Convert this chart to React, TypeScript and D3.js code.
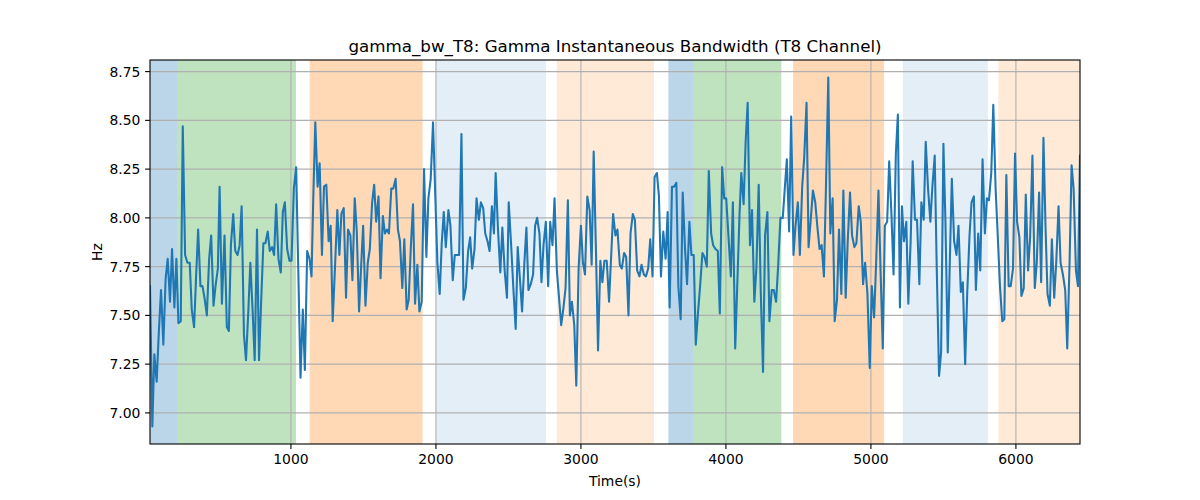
import * as d3 from "d3"

// [time (s), bandwidth (Hz)]
const samples: [number, number][] = [
  [28, 7.65], [44, 6.93], [58, 7.3], [74, 7.16], [88, 7.4], [104, 7.63], [120, 7.35], [136, 7.69], [150, 7.79],
  [166, 7.57], [180, 7.84], [196, 7.54], [210, 7.79], [224, 7.46], [240, 7.47], [254, 8.47], [270, 7.81],
  [286, 7.77], [302, 7.77], [316, 7.53], [332, 7.44], [346, 7.7], [360, 7.94], [376, 7.65], [390, 7.65],
  [406, 7.58], [420, 7.5], [436, 7.79], [450, 7.91], [466, 7.55], [480, 7.65], [496, 7.74], [508, 8.16],
  [524, 7.56], [542, 7.91], [558, 7.44], [572, 7.42], [586, 7.86], [602, 8.02], [616, 7.83], [632, 7.81],
  [646, 7.86], [660, 8.06], [676, 7.4], [690, 7.27], [706, 7.52], [720, 7.77], [736, 7.52], [750, 7.27],
  [766, 7.94], [780, 7.27], [796, 7.6], [810, 7.87], [824, 7.87], [840, 7.93], [854, 7.83], [870, 7.85],
  [884, 7.81], [898, 8.07], [914, 7.79], [930, 7.72], [944, 8.03], [958, 8.08], [974, 7.84], [990, 7.78],
  [1004, 7.78], [1020, 8.15], [1036, 8.26],
  [1066, 7.18], [1082, 7.53], [1096, 7.22], [1112, 7.83], [1128, 7.79], [1142, 7.7], [1154, 8.1], [1168, 8.49],
  [1184, 8.16], [1198, 8.28], [1214, 7.81], [1228, 8.16], [1244, 8.17], [1260, 7.88], [1274, 7.96], [1288, 7.47],
  [1304, 7.75], [1320, 8.04], [1334, 7.81], [1348, 8.02], [1364, 8.05], [1380, 7.59], [1394, 7.94], [1410, 7.91],
  [1424, 7.68], [1440, 8.1], [1454, 7.93], [1470, 7.52], [1484, 7.75], [1498, 7.96], [1514, 7.55], [1530, 7.77],
  [1544, 7.84], [1560, 8.08], [1574, 8.17], [1588, 7.98], [1604, 8.11], [1618, 7.69], [1634, 8.01], [1648, 7.92],
  [1662, 7.94], [1676, 7.92], [1692, 8.15], [1706, 8.15], [1722, 8.2], [1738, 7.94], [1752, 7.88], [1768, 7.64],
  [1782, 7.89], [1798, 7.53], [1812, 7.58], [1827, 7.85], [1842, 8.07], [1856, 7.56], [1872, 7.76], [1886, 7.52],
  [1902, 7.57], [1918, 8.25], [1934, 7.8], [1948, 8.1], [1964, 8.2], [1980, 8.49], [1994, 8.15], [2010, 7.77],
  [2026, 7.61], [2040, 7.87], [2054, 8.03], [2068, 7.85], [2086, 8.04],
  [2100, 7.96], [2116, 7.68], [2130, 7.81], [2146, 7.81], [2160, 7.81], [2176, 8.43], [2190, 7.58], [2206, 7.64],
  [2222, 7.83], [2236, 7.9], [2250, 7.74], [2266, 7.84], [2280, 8.1], [2296, 7.99], [2310, 8.08], [2326, 8.05],
  [2340, 7.92], [2356, 7.88], [2370, 7.83], [2386, 8.06], [2400, 7.92], [2412, 8.23], [2428, 7.94], [2444, 7.72],
  [2458, 7.95], [2474, 7.73], [2490, 7.59], [2502, 8.08], [2518, 7.87], [2534, 7.64], [2550, 7.43], [2564, 7.85],
  [2580, 7.68], [2594, 7.52], [2610, 7.77], [2624, 7.95], [2638, 7.63], [2654, 7.66], [2670, 7.71], [2684, 7.96],
  [2698, 8.0], [2714, 7.92], [2728, 7.67], [2742, 7.86], [2758, 7.98], [2774, 7.65], [2788, 7.98], [2804, 7.86],
  [2818, 8.1], [2834, 7.73], [2848, 7.6], [2864, 7.45], [2878, 7.53], [2894, 7.64], [2910, 8.09], [2924, 7.5],
  [2938, 7.57], [2954, 7.45], [2968, 7.14], [2984, 7.74], [3000, 7.96], [3014, 7.77], [3028, 7.71], [3044, 8.11],
  [3060, 8.04], [3074, 7.76], [3088, 8.34], [3104, 7.82], [3118, 7.32],
  [3134, 7.78], [3148, 7.67], [3162, 7.78], [3178, 7.78], [3194, 7.57], [3222, 8.02], [3238, 7.91], [3252, 7.94],
  [3268, 7.76], [3282, 7.74], [3298, 7.82], [3312, 7.8], [3328, 7.5], [3342, 7.92], [3358, 8.02], [3372, 7.99],
  [3388, 7.73], [3404, 7.7], [3418, 7.76], [3434, 7.71], [3448, 7.7], [3464, 7.74], [3478, 7.89], [3494, 7.7],
  [3508, 8.21], [3524, 8.23], [3538, 8.11], [3552, 7.7], [3568, 7.93], [3584, 7.79], [3598, 8.03], [3612, 7.54],
  [3628, 8.16], [3642, 8.16], [3658, 8.18], [3672, 7.65], [3688, 7.48], [3702, 8.13], [3718, 7.84], [3732, 7.66],
  [3748, 7.98], [3762, 7.81], [3778, 7.81], [3792, 7.35], [3808, 7.52], [3822, 7.65], [3838, 7.82], [3852, 7.8],
  [3868, 7.75], [3882, 8.24], [3898, 7.92], [3912, 7.86], [3928, 7.84], [3944, 7.83], [3958, 7.51], [3974, 8.26],
  [3988, 8.1], [4002, 8.1], [4018, 7.9], [4034, 7.7], [4048, 8.08], [4064, 7.33], [4078, 7.65], [4094, 8.02],
  [4106, 8.23], [4122, 8.07], [4136, 8.39], [4150, 8.59],
  [4166, 7.86], [4180, 8.04], [4196, 7.57], [4210, 7.74], [4226, 8.17], [4240, 7.63], [4256, 7.21], [4270, 7.91],
  [4286, 8.03], [4300, 7.47], [4316, 7.63], [4330, 7.63], [4346, 7.57], [4360, 7.75], [4376, 8.0], [4392, 8.0],
  [4406, 8.15], [4420, 8.3], [4436, 7.93], [4450, 8.52], [4466, 7.81], [4480, 7.96], [4496, 8.08], [4510, 7.81],
  [4526, 8.16], [4540, 8.31], [4556, 8.59], [4570, 7.85], [4586, 8.0], [4600, 8.14], [4616, 8.08], [4630, 7.96],
  [4646, 7.84], [4660, 7.86], [4676, 7.7], [4690, 8.16], [4706, 8.72], [4720, 7.92], [4736, 8.1], [4750, 7.47],
  [4766, 7.58], [4780, 7.94], [4796, 7.61], [4810, 8.14], [4826, 7.59], [4840, 7.88], [4856, 8.13], [4870, 7.91],
  [4886, 7.85], [4900, 7.87], [4916, 8.06], [4930, 7.98], [4946, 7.66], [4960, 7.77], [4976, 7.61], [4992, 7.23],
  [5006, 7.65], [5022, 7.49], [5036, 7.77], [5052, 8.14], [5066, 7.74], [5082, 7.33], [5096, 7.96], [5112, 7.98],
  [5126, 8.29], [5142, 8.01], [5156, 7.71], [5172, 8.33], [5186, 8.53],
  [5200, 7.54], [5214, 8.06], [5228, 7.88], [5244, 7.98], [5258, 7.56], [5274, 7.88], [5288, 8.29], [5304, 7.99],
  [5318, 7.99], [5334, 7.66], [5348, 8.08], [5364, 7.99], [5378, 8.39], [5394, 8.15], [5410, 7.98], [5424, 8.16],
  [5440, 8.32], [5454, 7.74], [5470, 7.19], [5484, 7.31], [5500, 8.38], [5514, 7.98], [5530, 7.31], [5544, 7.77],
  [5558, 8.2], [5574, 7.88], [5590, 7.81], [5604, 7.96], [5620, 7.62], [5634, 7.67], [5650, 7.25], [5664, 7.61],
  [5680, 7.91], [5694, 8.08], [5710, 8.11], [5724, 7.63], [5740, 7.92], [5754, 7.73], [5770, 8.3], [5786, 7.92],
  [5800, 8.1], [5814, 8.09], [5830, 8.23], [5844, 8.58], [5860, 8.15], [5874, 7.92], [5890, 7.65], [5906, 7.47],
  [5920, 7.48], [5934, 8.22], [5950, 7.65], [5964, 7.65], [5980, 7.74], [5994, 8.33], [6008, 7.98], [6024, 7.9],
  [6038, 7.6], [6054, 7.64], [6068, 8.12], [6084, 7.73], [6098, 7.9], [6114, 8.32], [6130, 7.64], [6144, 7.77],
  [6160, 8.13], [6174, 7.67], [6190, 8.41], [6204, 7.96], [6218, 7.61], [6234, 7.55], [6248, 7.89], [6264, 7.59],
  [6278, 7.77], [6294, 8.06], [6308, 7.77], [6324, 7.71], [6340, 7.63], [6354, 7.33], [6370, 7.77], [6384, 8.27],
  [6398, 8.15], [6414, 7.73], [6428, 7.65], [6442, 8.32],
]

// shaded phases
const spanStart = [0, 217, 1129, 2000, 2834, 3603, 3774, 4463, 5220, 5879]
const spanEnd = [217, 1035, 1908, 2758, 3504, 3774, 4382, 5091, 5806, 6500]
const spanKind = ["blue", "green", "orange", "ltblue", "ltorange", "blue", "green", "orange", "ltblue", "ltorange"]

const xTicks = [1000, 2000, 3000, 4000, 5000, 6000]
const yTicks = [7.0, 7.25, 7.5, 7.75, 8.0, 8.25, 8.5, 8.75]

const kindFill: Record<string, string> = {
  blue: "rgba(31,119,180,0.3)",
  green: "rgba(44,160,44,0.3)",
  orange: "rgba(255,127,14,0.3)",
  ltblue: "rgba(31,119,180,0.12)",
  ltorange: "rgba(255,127,14,0.16)",
}

const W = 1200
const H = 500
const margin = { top: 60, right: 120, bottom: 56, left: 150 }
const font = "DejaVu Sans, sans-serif"

export default function App() {
  const iw = W - margin.left - margin.right
  const ih = H - margin.top - margin.bottom

  const x = d3
    .scaleLinear()
    .domain(d3.extent(samples, (d) => d[0]) as [number, number])
    .range([0, iw])

  const [lo, hi] = d3.extent(samples, (d) => d[1]) as [number, number]
  const pad = (hi - lo) * 0.05
  const y = d3.scaleLinear().domain([lo - pad, hi + pad]).range([ih, 0])

  const line = d3
    .line<[number, number]>()
    .x((d) => x(d[0]))
    .y((d) => y(d[1]))

  return (
    <div style={{ position: "absolute", left: 0, top: 0 }}>
      <svg width={W} height={H} style={{ display: "block", background: "#fff" }} fontFamily={font}>
        <defs>
          <clipPath id="plot">
            <rect width={iw} height={ih} />
          </clipPath>
        </defs>
        <g transform={`translate(${margin.left},${margin.top})`}>
          <g clipPath="url(#plot)">
            {spanStart.map((s, i) => (
              <rect
                key={i}
                x={x(s)}
                y={0}
                width={x(spanEnd[i]) - x(s)}
                height={ih}
                fill={kindFill[spanKind[i]]}
              />
            ))}
            {xTicks.map((t) => (
              <line key={"gx" + t} x1={x(t)} x2={x(t)} y1={0} y2={ih} stroke="#b0b0b0" strokeWidth={1.1} />
            ))}
            {yTicks.map((t) => (
              <line key={"gy" + t} x1={0} x2={iw} y1={y(t)} y2={y(t)} stroke="#b0b0b0" strokeWidth={1.1} />
            ))}
            <path d={line(samples) || ""} fill="none" stroke="#1f77b4" strokeWidth={2.08} strokeLinejoin="round" strokeLinecap="square" />
          </g>
          <rect width={iw} height={ih} fill="none" stroke="#000" strokeWidth={1.1} />
          {xTicks.map((t) => (
            <g key={"tx" + t} transform={`translate(${x(t)},${ih})`}>
              <line y2={4.9} stroke="#000" strokeWidth={1.1} />
              <text y={9.7} dy="0.76em" textAnchor="middle" fontSize={13.9}>
                {t}
              </text>
            </g>
          ))}
          {yTicks.map((t) => (
            <g key={"ty" + t} transform={`translate(0,${y(t)})`}>
              <line x2={-4.9} stroke="#000" strokeWidth={1.1} />
              <text x={-9.7} dy="0.36em" textAnchor="end" fontSize={13.9}>
                {t.toFixed(2)}
              </text>
            </g>
          ))}
          <text x={iw / 2} y={-8.5} textAnchor="middle" fontSize={16.7}>
            gamma_bw_T8: Gamma Instantaneous Bandwidth (T8 Channel)
          </text>
          <text x={iw / 2} y={ih + 42} textAnchor="middle" fontSize={13.9}>
            Time(s)
          </text>
          <text transform={`translate(-48,${ih / 2}) rotate(-90)`} textAnchor="middle" fontSize={13.9}>
            Hz
          </text>
        </g>
      </svg>
    </div>
  )
}
